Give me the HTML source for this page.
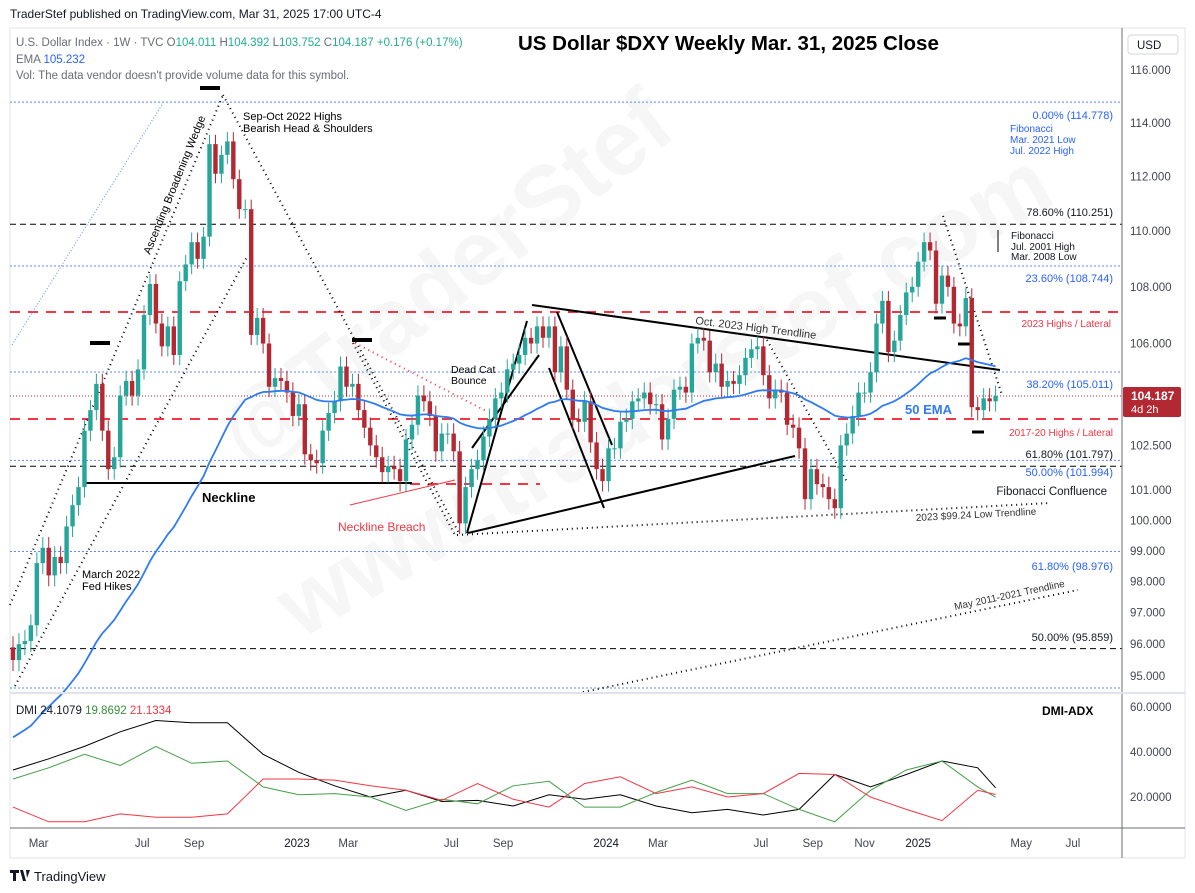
<!DOCTYPE html>
<html><head><meta charset="utf-8"><style>
html,body{margin:0;padding:0;background:#fff;width:1195px;height:893px;overflow:hidden;font-family:"Liberation Sans",sans-serif}
svg text{font-family:"Liberation Sans",sans-serif}
</style></head><body>
<svg id="chart" width="1195" height="893" viewBox="0 0 1195 893" xmlns="http://www.w3.org/2000/svg">
<rect width="1195" height="893" fill="#fff"/>
<text x="10" y="18" font-size="12" fill="#131722">TraderStef published on TradingView.com, Mar 31, 2025 17:00 UTC-4</text>
<rect x="10" y="28" width="1175" height="830" fill="#fff" stroke="#e0e3eb"/>
<g id="watermark" fill="#000" fill-opacity="0.035" font-weight="bold" font-size="92">
<text transform="translate(250,470) rotate(-38)">@TraderStef</text>
<text transform="translate(300,640) rotate(-30)">www.traderstef.com</text>
</g>
<g id="grid"></g>
<g id="ann"></g>
<g id="candles"></g>
<g id="ema"></g>
<g id="dmi"></g>
<g id="axes"></g>
<g id="texts"></g>
<text x="16" y="46" font-size="11.5" fill="#6a6d78">U.S. Dollar Index · 1W · TVC <tspan fill="#6a6d78">O</tspan><tspan fill="#22ab94">104.011</tspan> <tspan fill="#6a6d78">H</tspan><tspan fill="#22ab94">104.392</tspan> <tspan fill="#6a6d78">L</tspan><tspan fill="#22ab94">103.752</tspan> <tspan fill="#6a6d78">C</tspan><tspan fill="#22ab94">104.187</tspan> <tspan fill="#22ab94">+0.176 (+0.17%)</tspan></text>
<text x="16" y="63" font-size="11.5" fill="#6a6d78">EMA <tspan fill="#2962ff">105.232</tspan></text>
<text x="16" y="79" font-size="11.5" fill="#6a6d78">Vol: The data vendor doesn't provide volume data for this symbol.</text>
<text x="518" y="50" font-size="20.5" font-weight="bold" fill="#000">US Dollar $DXY Weekly Mar. 31, 2025 Close</text>
<text x="16" y="714" font-size="11.5" fill="#131722">DMI <tspan fill="#131722">24.1079</tspan> <tspan fill="#388e3c">19.8692</tspan> <tspan fill="#f23645">21.1334</tspan></text>
<text x="1042" y="715" font-size="12" font-weight="bold" fill="#000">DMI-ADX</text>
<g>
<path d="M10 870h9v3h-3v8h-3v-8h-3z M20 870h3l3 11h-3z M26 870h4l-3 8z" fill="#131722"/>
<text x="34" y="881" font-size="13" fill="#131722">TradingView</text>
</g>
</svg>
<script>
var closes=[95.5,96.0,96.1,96.6,98.6,99.1,98.2,98.8,98.6,99.8,100.5,101.1,103.0,103.7,104.6,103.0,101.7,102.1,104.2,104.7,104.2,105.1,107.0,108.1,106.7,105.9,106.6,105.6,108.2,108.8,109.6,109.0,109.8,113.2,112.1,112.8,113.3,111.9,110.8,110.8,106.3,106.9,106.0,104.5,104.8,104.7,104.3,103.5,
103.9,102.2,102.0,101.9,103.0,103.6,104.0,105.2,104.5,104.6,103.7,103.1,102.5,102.1,101.6,101.8,101.7,101.3,102.7,103.2,104.2,104.0,103.5,102.3,102.9,102.9,102.3,99.9,101.1,101.7,102.0,102.8,103.4,104.1,104.3,105.1,105.3,105.6,106.2,106.0,106.6,106.2,106.6,105.0,105.9,104.4,103.4,103.3,104.0,102.6,101.7,101.3,
102.4,102.4,103.3,103.4,104.0,104.1,104.3,103.9,103.9,102.7,103.4,104.4,104.5,104.3,106.0,106.2,106.1,105.0,105.3,104.5,104.7,104.6,104.9,105.5,105.8,105.9,104.9,104.1,104.4,104.3,103.2,103.1,102.4,100.7,101.7,101.2,101.1,100.7,100.4,102.5,102.9,103.5,104.3,104.3,105.0,106.7,107.5,105.7,106.1,107.0,107.8,108.0,108.9,
109.6,109.3,107.4,108.4,108.0,106.7,106.6,107.6,103.8,103.7,104.1,104.0,104.187];
var firstOpen=95.9;
var priceTicks=[116,114,112,110,108,106,102.5,101,100,99,98,97,96,95];
var timeLabels=["Mar","Jul","Sep","2023","Mar","Jul","Sep","2024","Mar","Jul","Sep","Nov","2025","May","Jul"];
var timeWeeks=[4.3,21.7,30.4,47.7,56.3,73.6,82.3,99.6,108.3,125.6,134.3,143,152,169.3,178];
var dmiWeeks=[0,6,12,18,24,30,36,42,48,54,60,66,72,78,84,90,96,102,108,114,120,126,132,138,144,150,156,162,165];
var adx=[32,37,42.5,49,54,53,53,39,31,25,20,23,18,18.5,16,21,19,21,16,13,14.5,12,14.5,30,24.5,30,36,33,24.1];
var plusDI=[28,33,39,34,42.5,35,36,24.5,21,21.5,20,14,19,17,25,27,15.5,15.5,22,27.5,21.5,21.5,14.5,9,23,32,36,24.5,19.9];
var minusDI=[15.5,9,9,12.5,11,11,12.5,28,28,27.5,25,23,18.5,26,19,15.5,26,29,21.5,24.5,20,21.5,30.5,30,20,14.5,9.5,23,21.1];
var dmiTicks=[60,40,20];

var NS="http://www.w3.org/2000/svg";
function X(i){return 13+i*5.955;}
function Y(p){return 70+(Math.log(116)-Math.log(p))*3034;}
function DY(v){return 797-(v-20)*2.25;}
function mk(tag,attrs,parent){var e=document.createElementNS(NS,tag);for(var k in attrs)e.setAttribute(k,attrs[k]);document.getElementById(parent).appendChild(e);return e;}

for(var i=0;i<closes.length;i++){
  var o=i==0?firstOpen:closes[i-1], c=closes[i];
  var up=c>=o, col=up?"#26a69a":"#b22833";
  var hi=Math.max(o,c)+0.35, lo=Math.min(o,c)-0.35;
  var w=mk("line",{x1:X(i),x2:X(i),y1:Y(hi),y2:Y(lo),stroke:col,"stroke-width":1},"candles");
  
  
  var yt=Y(Math.max(o,c)), yb=Y(Math.min(o,c));
  var b=mk("rect",{x:X(i)-2.2,y:yt,width:4.4,height:Math.max(1,yb-yt),fill:col},"candles");
  
  
}
var ema=93.0,k=2/51,pts=[];
for(var i=0;i<closes.length;i++){ema=ema+(closes[i]-ema)*k;pts.push(X(i).toFixed(1)+","+Y(ema).toFixed(1));}
var el=mk("polyline",{points:pts.join(" "),fill:"none",stroke:"#2f7bf2","stroke-width":1.8},"ema");



function dmiLine(arr,col,name){var p=[];for(var j=0;j<arr.length;j++)p.push(X(dmiWeeks[j]).toFixed(1)+","+DY(arr[j]).toFixed(1));
 var l=mk("polyline",{points:p.join(" "),fill:"none",stroke:col,"stroke-width":1},"dmi");
 
 }
dmiLine(adx,"#000","adx-line");dmiLine(plusDI,"#43a047","plus-di-line");dmiLine(minusDI,"#f23645","minus-di-line");

mk("line",{x1:1122,x2:1122,y1:28,y2:858,stroke:"#6a6d78"},"axes");
mk("line",{x1:10,x2:1185,y1:693,y2:693,stroke:"#e0e3eb","stroke-width":2},"axes");
mk("line",{x1:10,x2:1185,y1:828,y2:828,stroke:"#6a6d78"},"axes");
for(var i=0;i<priceTicks.length;i++){var t=mk("text",{x:1130,y:Y(priceTicks[i])+4,"font-size":11.5,fill:"#434651"},"axes");t.textContent=priceTicks[i].toFixed(3);
 
 }
for(var i=0;i<dmiTicks.length;i++){var t=mk("text",{x:1130,y:DY(dmiTicks[i])+4,"font-size":11.5,fill:"#434651"},"axes");t.textContent=dmiTicks[i].toFixed(4);
 
 }
for(var i=0;i<timeLabels.length;i++){var bold=/^20/.test(timeLabels[i]);var t=mk("text",{x:X(timeWeeks[i]),y:847,"font-size":11.5,fill:bold?"#131722":"#434651","text-anchor":"middle"},"axes");t.textContent=timeLabels[i];
 
 }
var ub=mk("rect",{x:1128,y:35,width:50,height:19,fill:"#fff",stroke:"#d1d4dc",rx:3},"axes");


var ut=mk("text",{x:1137,y:49,"font-size":11.5,fill:"#131722"},"axes");ut.textContent="USD";
var pb=mk("rect",{x:1123,y:387,width:58,height:30,fill:"#b22833",rx:2},"axes");


var pt=mk("text",{x:1131,y:400,"font-size":12,"font-weight":"bold",fill:"#fff"},"axes");pt.textContent="104.187";
var pt2=mk("text",{x:1131,y:413,"font-size":11,fill:"#fff"},"axes");pt2.textContent="4d 2h";

function L(x1,y1,x2,y2,col,w,dash,name){var l=mk("line",{x1:x1,y1:y1,x2:x2,y2:y2,stroke:col,"stroke-width":w},"ann");if(dash)l.setAttribute("stroke-dasharray",dash);
 
 }
function T(x,y,s,txt,col,name,anchor,rot,weight){var t=mk("text",{x:x,y:y,"font-size":s,fill:col},"texts");if(anchor)t.setAttribute("text-anchor",anchor);if(rot)t.setAttribute("transform","rotate("+rot+" "+x+" "+y+")");if(weight)t.setAttribute("font-weight",weight);t.textContent=txt;
 
 }
L(10,Y(114.778),1122,Y(114.778),"#5b8def",1,"2,2","fib-0-line");
L(10,Y(108.744),1122,Y(108.744),"#5b8def",1,"2,2","fib-236-line");
L(10,Y(105.011),1122,Y(105.011),"#5b8def",1,"2,2","fib-382-line");
L(10,Y(101.994),1122,Y(101.994),"#5b8def",1,"2,2","fib-50-blue-line");
L(10,Y(98.976),1122,Y(98.976),"#5b8def",1,"2,2","fib-618-blue-line");
L(10,688,1122,688,"#5b8def",1,"2,2","fib-bottom-line");
L(10,Y(110.251),1122,Y(110.251),"#000",1,"6,4","fib-786-line");
L(10,Y(101.797),1122,Y(101.797),"#000",1,"6,4","fib-618-black-line");
L(10,Y(95.859),1122,Y(95.859),"#000",1,"6,4","fib-50-black-line");
L(10,312,1122,312,"#f23645",2,"10,8","2023-highs-line");
L(10,419,1122,419,"#f23645",2,"10,8","2017-20-highs-line");
L(410,484,540,484,"#f23645",2,"10,8","neckline-breach-lateral");
L(10,396,1122,396,"#b22833",1,"1,2","current-price-line");
L(85,483,412,483,"#000",2,null,"neckline");
L(10,605,223,95,"#000",2,"1,4","wedge-upper-line");
L(15,686,248,255,"#000",2,"1,4","wedge-lower-line");
L(12,345,163,103,"#5b8def",1,"1,2","blue-diagonal-line");
L(223,95,460,535,"#000",2,"1,4","head-shoulders-right-line");
L(353,343,455,535,"#000",2,"1,4","right-shoulder-line");
L(355,343,488,412,"#f23645",2,"1,4","red-dotted-line");
L(457,535,1050,503,"#000",2,"1,4","2023-low-trendline");
L(767,340,847,482,"#000",2,"1,4","2024-dotted-line");
L(943,216,1002,395,"#000",2,"1,4","2025-dotted-line");
L(583,692,1078,590,"#000",2,"1,4","may-2011-2021-trendline");
L(467,533,527,321,"#000",2,null,"rally-line-1");
L(472,448,539,355,"#000",2,null,"rally-line-2");
L(468,533,795,456,"#000",2,null,"triangle-lower-line");
L(532,305,1000,370,"#000",2,null,"oct-2023-high-trendline");
L(557,312,612,445,"#000",2,null,"drop-line-1");
L(549,368,604,508,"#000",2,null,"drop-line-2");
L(200,88,220,88,"#000",4,null,"peak-marker");
L(90,343,110,343,"#000",4,null,"shoulder-marker-left");
L(352,340,372,340,"#000",4,null,"shoulder-marker-right");
L(934,318,946,318,"#000",3,null,"marker-2025-a");
L(958,344,970,344,"#000",3,null,"marker-2025-b");
L(972,432,984,432,"#000",3,null,"marker-2025-c");
L(998,230,998,252,"#000",1,null,"fib-arrow");
L(350,505,455,480,"#f23645",1,null,"neckline-breach-arrow");
T(150,255,11,"Ascending Broadening Wedge","#000","wedge-label",null,-68);
T(243,120,11,"Sep-Oct 2022 Highs","#000","sep-oct-highs-label");
T(243,132,11,"Bearish Head & Shoulders","#000","head-shoulders-label");
T(202,502,13,"Neckline","#000","neckline-label",null,null,"bold");
T(338,531,12,"Neckline Breach","#f23645","neckline-breach-label");
T(451,373,10.5,"Dead Cat","#000","dead-cat-label");
T(451,384,10.5,"Bounce","#000","bounce-label");
T(82,578,11,"March 2022","#000","march-2022-label");
T(82,590,11,"Fed Hikes","#000","fed-hikes-label");
T(695,324,11,"Oct. 2023 High Trendline","#333","oct-2023-trendline-label",null,7);
T(1113,119,11,"0.00% (114.778)","#2962ff","fib-0-label","end");
T(1010,132,10,"Fibonacci","#2962ff","fib-top-title");
T(1010,143,10,"Mar. 2021 Low","#2962ff","fib-top-low");
T(1010,154,10,"Jul. 2022 High","#2962ff","fib-top-high");
T(1113,216,11,"78.60% (110.251)","#131722","fib-786-label","end");
T(1011,239,10,"Fibonacci","#131722","fib-right-title");
T(1011,250,10,"Jul. 2001 High","#131722","fib-right-high");
T(1011,260,10,"Mar. 2008 Low","#131722","fib-right-low");
T(1113,282,11,"23.60% (108.744)","#2962ff","fib-236-label","end");
T(1111,327,10,"2023 Highs / Lateral","#f23645","2023-highs-label","end");
T(1113,388,11,"38.20% (105.011)","#2962ff","fib-382-label","end");
T(905,414,13,"50 EMA","#2f7bf2","ema-label",null,null,"bold");
T(1113,436,10,"2017-20 Highs / Lateral","#f23645","2017-20-highs-label","end");
T(1113,458,11,"61.80% (101.797)","#131722","fib-618-label","end");
T(1113,476,11,"50.00% (101.994)","#2962ff","fib-50-label","end");
T(1107,495,11.5,"Fibonacci Confluence","#131722","fib-confluence-label","end");
T(916,521,10,"2023 $99.24 Low Trendline","#333","2023-low-trendline-label",null,-3);
T(1113,570,11,"61.80% (98.976)","#2962ff","fib-618b-label","end");
T(955,610,10,"May 2011-2021 Trendline","#333","may-trendline-label",null,-12);
T(1113,641,11,"50.00% (95.859)","#131722","fib-50b-label","end");
</script>
</body></html>
